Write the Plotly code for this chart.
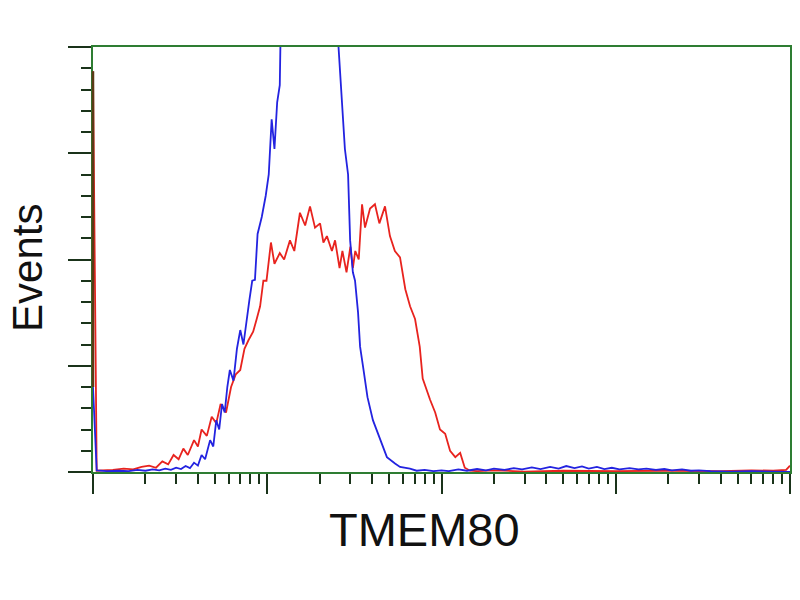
import plotly.graph_objects as go

# ---- data ----
x_label = "TMEM80"
y_label = "Events"

blue_x = [1.0, 1.05, 1.2, 1.4, 1.6, 1.8, 2.0, 2.2, 2.4, 2.6, 2.8, 3.0, 3.2, 3.4, 3.6, 3.8, 4.0,
          4.2, 4.4, 4.7, 4.9, 5.1, 5.3, 5.5, 5.7, 5.9, 6.1, 6.4, 6.7, 7.0, 7.3, 7.6, 7.9, 8.2,
          8.5, 8.8, 9.3, 9.8, 10.2, 10.6, 11.0, 11.4, 11.8, 12.0, 12.5, 14, 16, 18, 20, 22, 24,
          25.2, 26.2, 27.9, 29.1, 29.9, 31.0, 31.9, 33.2, 34.1, 35.5, 37.6, 40.4, 44.4, 48.6,
          54.1, 57.8, 65.9, 72, 80, 90, 100, 110, 125, 140, 160, 180, 200, 230, 260, 290, 330,
          370, 420, 470, 520, 580, 640, 700, 780, 860, 950, 1050, 1200, 1350, 1500, 1700, 1900,
          2100, 2400, 2700, 3000, 3500, 4500, 6000, 8000, 10000]
blue_y = [200, 4, 2, 3, 2, 5, 3, 6, 4, 8, 5, 10, 7, 14, 9, 22, 15,
          40, 30, 75, 60, 122, 100, 160, 140, 200, 240, 215, 290, 334, 300, 360, 405, 450,
          452, 560, 600, 650, 700, 830, 760, 870, 910, 1100, 1250, 1500, 1700, 1750, 1700, 1500, 1250,
          1050, 930, 760, 700, 545, 470, 450, 375, 295, 247, 176, 122, 75, 35,
          20, 12, 8, 3, 5, 2, 4, 2, 6, 3, 7, 4, 8, 5, 9, 6, 11,
          7, 12, 8, 14, 9, 13, 8, 12, 7, 10, 6, 9, 6, 8, 5, 7,
          4, 6, 3, 4, 2, 1, 2, 1, 0]

red_x = [1.0, 1.05, 1.3, 1.5, 1.7, 1.9, 2.1, 2.3, 2.5, 2.7, 2.9, 3.1, 3.3, 3.5, 3.8, 4.0, 4.2,
         4.5, 4.8, 5.1, 5.4, 5.8, 6.2, 6.6, 7.0, 7.4, 7.8, 8.3, 8.7, 9.1, 9.5, 9.9, 10.5, 11.0,
         11.8, 12.5, 13.5, 14.3, 15.4, 16.5, 17.6, 18.8, 20.1, 21, 22, 23.5, 24.5, 26, 27, 28.5,
         30, 31, 32, 33.5, 35, 36.4, 38.9, 41.5, 44, 47.4, 50.6, 54, 57.8, 62, 66, 70.5, 75, 78,
         86, 92, 98, 105, 112, 120, 128, 136, 146, 160, 200, 300, 500, 1000, 2000, 4000, 6000,
         8000, 9500, 10000]
red_y = [943, 3, 5, 8, 6, 12, 15, 10, 25, 18, 40, 30, 55, 40, 75, 60, 100,
         85, 130, 115, 160, 140, 200, 230, 240, 290, 310, 330, 360, 390, 450, 450, 540, 490,
         515, 500, 545, 520, 610, 580, 625, 575, 585, 540, 555, 520, 545, 480, 520, 470,
         530, 480, 520, 500, 630, 575, 620, 630, 585, 625, 555, 520, 505, 430, 390, 360, 295, 220,
         170, 140, 100, 90, 50, 35, 45, 10, 3, 2, 4, 1, 3, 2, 3, 2, 4,
         3, 5, 15]

x_major = [1, 10, 100, 1000, 10000]
x_minor = [m * d for d in [1, 10, 100, 1000] for m in range(2, 10)]
y_major = [0, 250, 500, 750, 1000]
y_minor = list(range(0, 1001, 50))

GREEN = "#2e7d32"
TICK = "#1a331a"

fig = go.Figure()
fig.add_trace(go.Scatter(x=red_x, y=red_y, mode="lines",
                         line=dict(color="#e8231e", width=1.8), showlegend=False))
fig.add_trace(go.Scatter(x=blue_x, y=blue_y, mode="lines",
                         line=dict(color="#2323e0", width=1.8), showlegend=False))

fig.update_layout(
    template="none",
    width=792, height=592,
    margin=dict(l=85, r=10, t=39, b=128, autoexpand=False),
    paper_bgcolor="white", plot_bgcolor="white",
    showlegend=False,
    xaxis=dict(type="log", range=[0, 4], showgrid=False, zeroline=False, automargin=False,
               showline=True, linecolor=GREEN, linewidth=2, mirror=True,
               tickmode="array", tickvals=x_major, showticklabels=False,
               ticks="outside", ticklen=20, tickwidth=2, tickcolor=TICK,
               minor=dict(tickmode="array", tickvals=x_minor, ticks="outside",
                          ticklen=10, tickwidth=2, tickcolor=TICK, showgrid=False)),
    yaxis=dict(range=[0, 1000], showgrid=False, zeroline=False, automargin=False,
               showline=True, linecolor=GREEN, linewidth=2, mirror=True,
               tickmode="array", tickvals=y_major, showticklabels=False,
               ticks="outside", ticklen=23, tickwidth=2, tickcolor=TICK,
               minor=dict(tickmode="array", tickvals=y_minor, ticks="outside",
                          ticklen=10, tickwidth=2, tickcolor=TICK, showgrid=False)),
    shapes=[dict(type="line", xref="paper", yref="y", x0=0, x1=0, y0=blue_y[0], y1=red_y[0],
                 line=dict(color="#5b3a16", width=2.5), layer="above")],
    annotations=[
        dict(text=y_label, xref="paper", yref="paper", x=-0.0947, y=0.48,
             textangle=-90, showarrow=False, xanchor="center", yanchor="middle",
             font=dict(family="Liberation Sans, Arial, sans-serif", size=42, color="#111")),
        dict(text=x_label, xref="paper", yref="paper", x=0.476, y=-0.136,
             showarrow=False, xanchor="center", yanchor="middle",
             font=dict(family="Liberation Sans, Arial, sans-serif", size=47, color="#111")),
    ],
)

fig.write_html("out.html")
